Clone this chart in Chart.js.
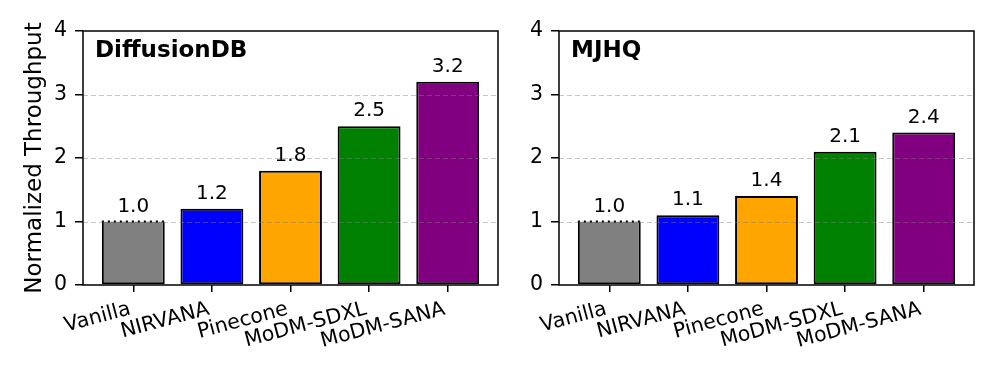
<!DOCTYPE html>
<html><head><meta charset="utf-8">
<script src="https://cdn.jsdelivr.net/npm/chart.js@4"></script>
<style>
html,body{margin:0;padding:0;background:#fff;}
#wrap{position:relative;width:997px;height:383px;background:#fff;}
canvas{position:absolute;top:0;}
</style></head><body>
<div id="wrap">
<canvas id="c1" width="500" height="383" style="left:0;width:500px;height:383px"></canvas>
<canvas id="c2" width="497" height="383" style="left:500px;width:497px;height:383px"></canvas>
</div>
<script>
// ---- data ----
const categories = ['Vanilla', 'NIRVANA', 'Pinecone', 'MoDM-SDXL', 'MoDM-SANA'];
const diffusionDBValues = [1.0, 1.2, 1.8, 2.5, 3.2];
const mjhqValues = [1.0, 1.1, 1.4, 2.1, 2.4];
const yTickValues = [0, 1, 2, 3, 4];
const gridValues = [1, 2, 3];
const panelTitles = ['DiffusionDB', 'MJHQ'];
const yAxisTitle = 'Normalized Throughput';
// ---- styles ----
const barColors = ['#808080', '#0000ff', '#ffa500', '#008000', '#800080'];
const FONT = '"DejaVu Sans", sans-serif';
Chart.defaults.font.family = FONT;
Chart.defaults.color = '#000';

const overlay = {
  id: 'overlay',
  afterDatasetsDraw(chart, args, opts) {
    const ctx = chart.ctx;
    const {left, right, top, bottom} = chart.chartArea;
    const y = chart.scales.y;
    const meta = chart.getDatasetMeta(0);
    const vals = chart.data.datasets[0].data;
    ctx.save();
    // grid lines (drawn above bars)
    ctx.strokeStyle = 'rgba(128,128,128,0.45)';
    ctx.lineWidth = 1.2;
    ctx.setLineDash([5, 3]);
    gridValues.forEach(v => {
      const py = Math.round(y.getPixelForValue(v)) + 0.5;
      ctx.beginPath(); ctx.moveTo(left, py); ctx.lineTo(right, py); ctx.stroke();
    });
    // dotted top edge on baseline bar
    const b = meta.data[0];
    ctx.setLineDash([2, 4]);
    ctx.strokeStyle = '#000';
    ctx.lineWidth = 1.8;
    ctx.beginPath(); ctx.moveTo(b.x - b.width / 2, b.y); ctx.lineTo(b.x + b.width / 2, b.y); ctx.stroke();
    ctx.setLineDash([]);
    // value labels
    ctx.fillStyle = '#000';
    ctx.font = '20px ' + FONT;
    ctx.textAlign = 'center';
    ctx.textBaseline = 'alphabetic';
    meta.data.forEach((bar, i) => {
      ctx.fillText(Number(vals[i].y).toFixed(1), bar.x, bar.y - 10);
    });
    // frame
    ctx.lineWidth = 1.5;
    ctx.strokeStyle = '#000';
    ctx.strokeRect(left, top, right - left, bottom - top);
    // panel title
    ctx.font = 'bold 23px ' + FONT;
    ctx.textAlign = 'left';
    ctx.fillText(opts.title, left + 12, top + 25.5);
    ctx.restore();
  }
};

function makeChart(id, values, title, showYTitle, yWidth, rightPad) {
  return new Chart(document.getElementById(id), {
    type: 'bar',
    data: {
      datasets: [{
        data: values.map((v, i) => ({x: i, y: v})),
        backgroundColor: barColors,
        borderColor: '#000',
        borderWidth: 2,
        borderSkipped: (c) => c.dataIndex === 0 ? 'top' : false,
        barPercentage: 0.8,
        categoryPercentage: 1.0
      }]
    },
    options: {
      responsive: false,
      animation: false,
      events: [],
      layout: {padding: {left: 0, right: rightPad, top: 31, bottom: 0}},
      plugins: {legend: {display: false}, tooltip: {enabled: false}, overlay: {title: title}},
      scales: {
        x: {
          type: 'linear',
          min: -0.64, max: categories.length - 1 + 0.64,
          offset: false,
          afterBuildTicks: (s) => { s.ticks = categories.map((c, i) => ({value: i})); },
          grid: {display: true, offset: false, drawOnChartArea: false, drawTicks: true, tickLength: 7, color: '#000', lineWidth: 1.5},
          border: {display: false},
          ticks: {font: {size: 20.5}, color: '#000', minRotation: 15, maxRotation: 15, autoSkip: false, padding: 5, labelOffset: -3,
                  callback: (v) => categories[Math.round(v)]},
          afterFit: (s) => { s.height = 98; }
        },
        y: {
          min: 0, max: 4,
          afterBuildTicks: (s) => { s.ticks = yTickValues.map(v => ({value: v})); },
          grid: {display: true, drawOnChartArea: false, drawTicks: true, tickLength: 8, color: '#000', lineWidth: 1.5},
          border: {display: false},
          ticks: {font: {size: 20.5}, color: '#000', padding: 8, callback: (v) => String(v)},
          title: {display: showYTitle, text: yAxisTitle, font: {size: 23}, color: '#000', padding: {top: 21, bottom: 0}},
          afterFit: (s) => { s.width = yWidth; }
        }
      }
    },
    plugins: [overlay]
  });
}

makeChart('c1', diffusionDBValues, panelTitles[0], true, 83, 2);
makeChart('c2', mjhqValues, panelTitles[1], false, 59, 23);
</script>
</body></html>
